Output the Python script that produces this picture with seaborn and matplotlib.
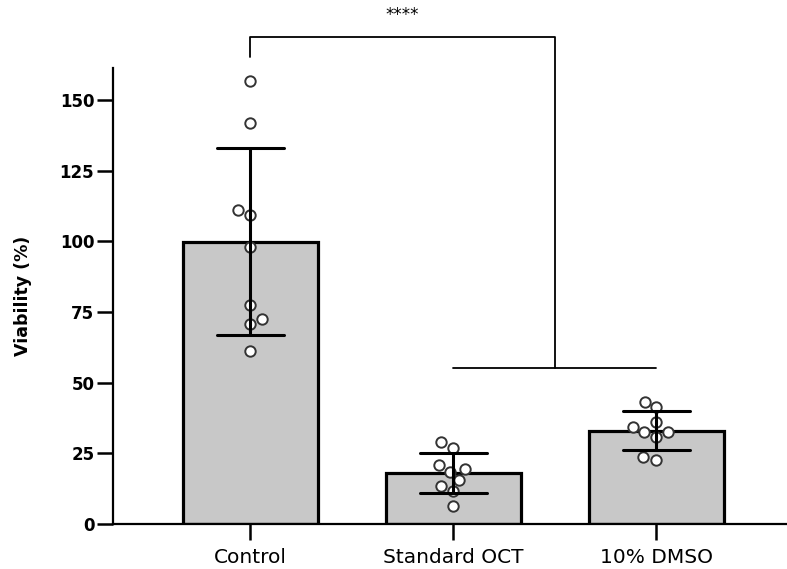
import numpy as np
import pandas as pd
import seaborn as sns
import matplotlib
matplotlib.use("Agg")
import matplotlib.pyplot as plt

groups = ["Control", "Standard OCT", "10% DMSO"]
control = [156.7, 141.8, 111.0, 109.3, 98.0, 77.5, 72.5, 70.7, 61.2]
standard_oct = [28.9, 27.0, 20.9, 19.5, 18.4, 15.6, 13.5, 11.8, 6.4]
dmso = [43.3, 41.3, 36.2, 34.4, 32.4, 32.4, 30.7, 23.6, 22.6]
y_ticks = [0, 25, 50, 75, 100, 125, 150]

df = pd.DataFrame({
    "group": np.repeat(groups, [len(control), len(standard_oct), len(dmso)]),
    "viability": control + standard_oct + dmso,
})

sns.set_style("ticks")
plt.rcParams["font.family"] = ["DejaVu Sans"]
plt.rcParams["text.color"] = "black"
plt.rcParams["axes.labelcolor"] = "black"
plt.rcParams["xtick.color"] = "black"
plt.rcParams["ytick.color"] = "black"
plt.rcParams["axes.edgecolor"] = "black"

fig = plt.figure(figsize=(7.87, 5.69), dpi=100)
ax = fig.add_axes([0.1436, 0.0791, 0.8564, 0.8014])

sns.barplot(data=df, x="group", y="viability", order=groups, errorbar="sd",
            capsize=0.33, width=0.665, color="#c8c8c8", edgecolor="black",
            linewidth=2.3, saturation=1, err_kws={"color": "black", "linewidth": 2.2},
            ax=ax)
for line in ax.lines:
    line.set_zorder(5)

sns.swarmplot(data=df, x="group", y="viability", order=groups, size=7.5,
              color="white", edgecolor="#333333", linewidth=1.4, ax=ax, zorder=4)

ax.set_xlim(-0.675, 2.645)
ax.set_ylim(0, 161.3)
ax.set_yticks(y_ticks)
ax.set_xlabel("")
ax.set_ylabel("Viability (%)", fontsize=12.5, fontweight="bold", labelpad=20)
sns.despine(ax=ax)
for side in ["left", "bottom"]:
    ax.spines[side].set_linewidth(1.6)
ax.tick_params(axis="both", length=11.5, width=1.8)
ax.tick_params(axis="y", labelsize=12, pad=2)
ax.tick_params(axis="x", labelsize=14.5, pad=6)
for lab in ax.get_yticklabels():
    lab.set_fontweight("bold")

# significance bracket
bk = dict(color="black", linewidth=1.3, clip_on=False)
ax.plot([0, 0, 1.5, 1.5], [165.2, 172.3, 172.3, 55.2], **bk)
ax.plot([1, 2], [55.2, 55.2], **bk)
ax.text(0.75, 177, "****", ha="center", va="bottom", fontsize=12, clip_on=False)

fig.savefig("out.png", dpi=100)
